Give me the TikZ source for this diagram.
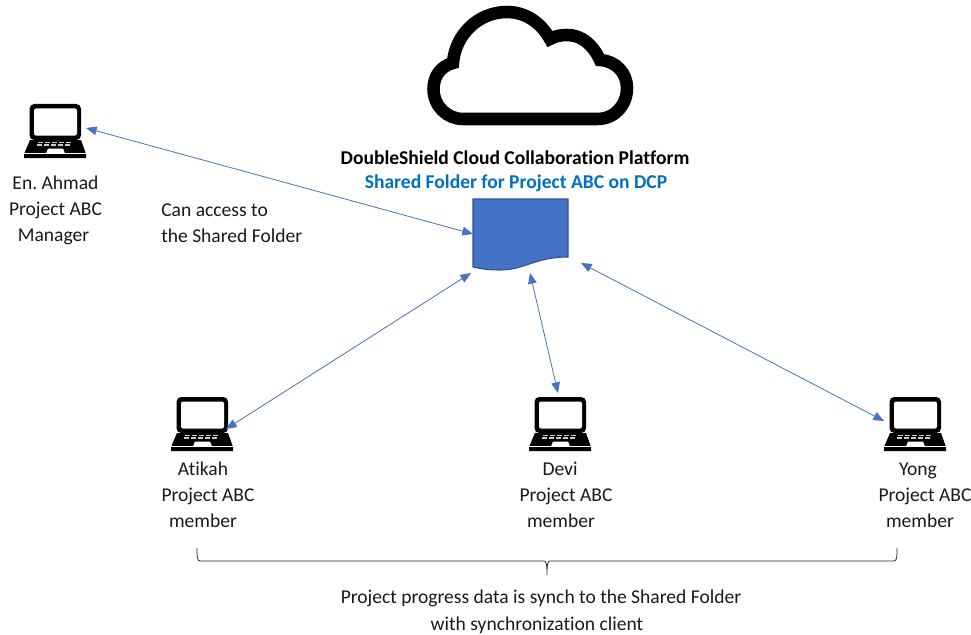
\documentclass[tikz,border=0pt]{standalone}
\usepackage{fontspec}
\setmainfont[Ligatures=NoCommon]{Carlito}
\frenchspacing
\usetikzlibrary{arrows.meta}
\definecolor{linkblue}{HTML}{4472C4}
\definecolor{docedge}{HTML}{2F528F}
\definecolor{subblue}{HTML}{0070C0}
\tikzset{
  x=0.75pt,y=-0.75pt,
  label text/.style={font=\fontsize{14.67}{19.5}\selectfont,align=center,inner sep=0pt,text=black!90},
  head text/.style={font=\fontsize{14.67}{17}\selectfont\bfseries,inner sep=0pt},
  link/.style={draw=linkblue,line width=0.6pt,{Triangle[length=8pt,width=6.5pt]}-{Triangle[length=8pt,width=6.5pt]}},
  laptop/.pic={
    % screen
    \fill[black,rounded corners=3.5pt] (5.5,0) -- (57,0) -- (57,36) -- (5.5,36) -- cycle;
    \fill[white,rounded corners=1.5pt] (10,4.5) -- (53,4.5) -- (53,31.5) -- (10,31.5) -- cycle;
    % base
    \fill[black] (6,36) -- (57,36) -- (62,50) -- (62,54) -- (0,54) -- (0,50) -- cycle;
    \fill[white] (0,48.8) -- (62,48.8) -- (62,50) -- (0,50) -- cycle;
    \fill[white] (22,49.5) -- (24,44.5) -- (39,44.5) -- (41,49.5) -- cycle;
    \foreach \kx in {13,20,27,34,41}{
      \fill[white!80!black] (\kx+0.5,37.5) rectangle ++(5,1.4);
      \fill[white!80!black] (\kx-0.5,40.2) rectangle ++(5,1.4);
    }
  }
}
\begin{document}
\begin{tikzpicture}
\useasboundingbox (0,0) rectangle (971,635);
% cloud
\draw[black,line width=9.4pt,miter limit=2,line join=miter] (463,119) -- (597,119)
  .. controls (615,119) and (627,105) .. (627,88)
  .. controls (627,73) and (616,61) .. (600,60)
  .. controls (593,45) and (582,35) .. (567,35)
  .. controls (561,35) and (555,36) .. (550,39)
  .. controls (541,23) and (526,12) .. (507,12)
  .. controls (478,12) and (455,35) .. (453,63)
  .. controls (441,66) and (433.5,76) .. (433.5,89)
  .. controls (433.5,106) and (447,119) .. (463,119) -- cycle;
% titles
\node[head text] (title) at (515,158) {DoubleShield Cloud Collaboration Platform};
\node[head text,text=subblue] (sub) at (516,183) {Shared Folder for Project ABC on DCP};
% document
\draw[fill=linkblue,draw=docedge,line width=0.8pt] (473,199) -- (568,199) -- (568,257)
  .. controls (535,257) and (525,270) .. (500,270)
  .. controls (488,270) and (482,269) .. (473,267) -- cycle;
\coordinate (docW) at (473,234);
\coordinate (docSW) at (471,273);
\coordinate (docS) at (530,273);
\coordinate (docSE) at (581,263);
% laptops
\pic at (24,104) {laptop};
\pic at (171,397) {laptop};
\pic at (529,397) {laptop};
\pic at (884,397) {laptop};
\coordinate (mgrE) at (86,128);
\coordinate (atiE) at (226,429);
\coordinate (devN) at (558,393);
\coordinate (yonW) at (884,421);
% links
\draw[link] (mgrE) -- (docW);
\draw[link] (atiE) -- (docSW);
\draw[link] (devN) -- (docS);
\draw[link] (yonW) -- (docSE);
% labels
\node[label text] (ahmad) at (55.5,210.5) {En. Ahmad\\Project ABC\\Manager\hspace*{3pt}};
\node[label text,align=left,anchor=west] (access) at (161,223) {Can access to\\the Shared Folder};
\node[label text] (atikah) at (208,495) {Atikah\hspace*{7.5pt}\\Project ABC\\member\hspace*{7.5pt}};
\node[label text] (devi) at (566,495) {Devi\hspace*{9pt}\\Project ABC\\member\hspace*{7.5pt}};
\node[label text] (yong) at (925,495) {Yong\hspace*{10.5pt}\\Project ABC\\member\hspace*{7.5pt}};
\node[label text,font=\fontsize{14.67}{20}\selectfont] (sync) at (541,612) {Project progress data is synch to the Shared Folder\\with synchronization client\hspace*{6pt}};
% brace
\draw[black!85,line width=0.55pt] (197,548) .. controls (197,556) and (197,561) .. (200,561)
  -- (544,561) .. controls (546,561) and (547,563) .. (547,575)
  .. controls (547,563) and (548,561) .. (550,561) -- (894,561)
  .. controls (897,561) and (897,556) .. (897,548);
\end{tikzpicture}
\end{document}
